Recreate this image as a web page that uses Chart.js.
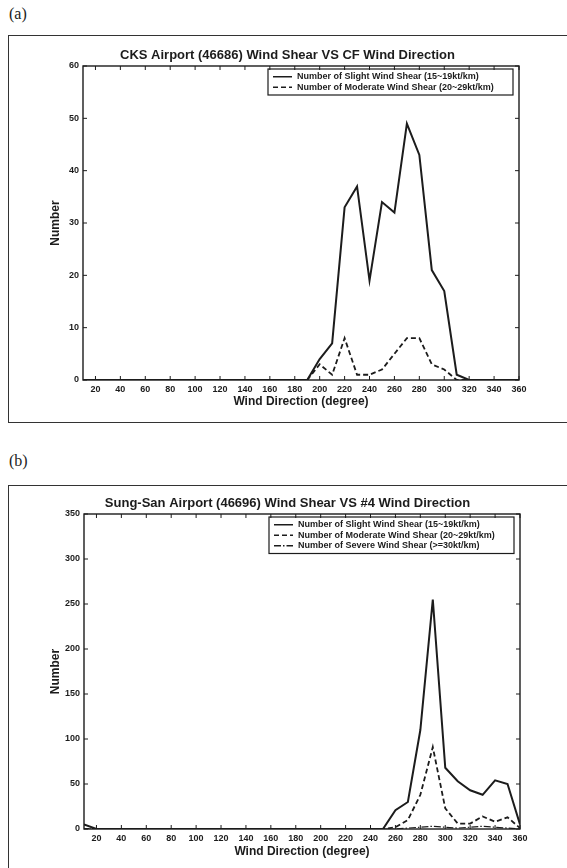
<!DOCTYPE html>
<html>
<head>
<meta charset="utf-8">
<title>Wind Shear vs Wind Direction</title>
<script src="https://cdn.jsdelivr.net/npm/chart.js@4.4.1/dist/chart.umd.min.js"></script>
<style>
  body { margin: 0; background: #fff; width: 567px; height: 868px; position: relative; overflow: hidden; }
  .tag { position: absolute; left: 9px; font-family: "Liberation Serif", "DejaVu Serif", serif; font-size: 16px; color: #222; }
  .frame { position: absolute; left: 8px; width: 600px; border: 1.5px solid #333; border-right: none; }
  canvas { position: absolute; left: 8px; }
</style>
</head>
<body>
<div class="tag" style="top:5px">(a)</div>
<div class="frame" style="top:35px;height:386px"></div>
<canvas id="cksChart" width="559" height="387" style="top:36px"></canvas>

<div class="tag" style="top:452px">(b)</div>
<div class="frame" style="top:485px;height:420px"></div>
<canvas id="sungChart" width="559" height="382" style="top:486px"></canvas>

<script>
// wind direction bins (degree)
const directions = [10, 20, 30, 40, 50, 60, 70, 80, 90, 100, 110, 120,
                    130, 140, 150, 160, 170, 180, 190, 200, 210, 220, 230, 240,
                    250, 260, 270, 280, 290, 300, 310, 320, 330, 340, 350, 360];
const xTicks = [20, 40, 60, 80, 100, 120, 140, 160, 180, 200, 220, 240, 260, 280, 300, 320, 340, 360];

// CKS Airport (46686)
const cksSlight   = [0, 0, 0, 0, 0, 0, 0, 0, 0, 0, 0, 0, 0, 0, 0, 0, 0, 0,
                     0, 4, 7, 33, 37, 19, 34, 32, 49, 43, 21, 17, 1, 0, 0, 0, 0, 0];
const cksModerate = [0, 0, 0, 0, 0, 0, 0, 0, 0, 0, 0, 0, 0, 0, 0, 0, 0, 0,
                     0, 3, 1, 8, 1, 1, 2, 5, 8, 8, 3, 2, 0, 0, 0, 0, 0, 0];
const cksYTicks = [0, 10, 20, 30, 40, 50, 60];

// Sung-San Airport (46696)
const sungSlight   = [5, 0, 0, 0, 0, 0, 0, 0, 0, 0, 0, 0, 0, 0, 0, 0, 0, 0,
                      0, 0, 0, 0, 0, 0, 0, 21, 30, 110, 255, 68, 53, 43, 38, 54, 50, 5];
const sungModerate = [0, 0, 0, 0, 0, 0, 0, 0, 0, 0, 0, 0, 0, 0, 0, 0, 0, 0,
                      0, 0, 0, 0, 0, 0, 0, 2, 10, 38, 91, 23, 6, 6, 14, 8, 13, 1];
const sungSevere   = [0, 0, 0, 0, 0, 0, 0, 0, 0, 0, 0, 0, 0, 0, 0, 0, 0, 0,
                      0, 0, 0, 0, 0, 0, 0, 0, 1, 2, 3, 2, 1, 2, 3, 2, 1, 0];
const sungYTicks = [0, 50, 100, 150, 200, 250, 300, 350];

const INK = '#1c1c1c';
const FONT = '"Liberation Sans", Arial, sans-serif';

function pts(values) {
    return directions.map((d, i) => ({ x: d, y: values[i] }));
}

// Box round the plot with inward ticks on all four sides
const boxAxes = {
    id: 'boxAxes',
    afterDraw(chart) {
        const { ctx, chartArea: a, scales: { x, y } } = chart;
        ctx.save();
        ctx.strokeStyle = INK;
        ctx.lineWidth = 1.4;
        ctx.strokeRect(a.left, a.top, a.right - a.left, a.bottom - a.top);
        ctx.lineWidth = 1;
        ctx.beginPath();
        x.ticks.forEach(t => {
            const px = x.getPixelForValue(t.value);
            ctx.moveTo(px, a.bottom); ctx.lineTo(px, a.bottom - 4);
            ctx.moveTo(px, a.top); ctx.lineTo(px, a.top + 4);
        });
        y.ticks.forEach(t => {
            const py = y.getPixelForValue(t.value);
            ctx.moveTo(a.left, py); ctx.lineTo(a.left + 4, py);
            ctx.moveTo(a.right, py); ctx.lineTo(a.right - 4, py);
        });
        ctx.stroke();
        ctx.restore();
    }
};

// Framed legend in the top right corner of the plot
const boxLegend = {
    id: 'boxLegend',
    afterDatasetsDraw(chart) {
        const { ctx, chartArea } = chart;
        const sets = chart.data.datasets;
        const rowH = 10.5;
        const w = 245, h = 5 + sets.length * rowH;
        const x = chartArea.right - 6 - w, y = chartArea.top + 3;
        ctx.save();
        ctx.fillStyle = '#fff';
        ctx.fillRect(x, y, w, h);
        ctx.strokeStyle = INK;
        ctx.lineWidth = 1.2;
        ctx.strokeRect(x, y, w, h);
        ctx.font = 'bold 9px ' + FONT;
        ctx.textBaseline = 'middle';
        sets.forEach((ds, i) => {
            const cy = y + 2.5 + rowH * (i + 0.5);
            ctx.setLineDash(ds.borderDash || []);
            ctx.lineWidth = 1.5;
            ctx.beginPath();
            ctx.moveTo(x + 5, cy);
            ctx.lineTo(x + 24, cy);
            ctx.stroke();
            ctx.setLineDash([]);
            ctx.fillStyle = INK;
            ctx.fillText(ds.label, x + 29, cy);
        });
        ctx.restore();
    }
};

function lineSet(label, values, dash, width) {
    return {
        label: label,
        data: pts(values),
        borderColor: INK,
        borderWidth: width,
        borderDash: dash,
        pointRadius: 0,
        tension: 0,
        fill: false
    };
}

function makeChart(id, cfg) {
    const ctx = document.getElementById(id).getContext('2d');
    return new Chart(ctx, {
        type: 'line',
        data: { datasets: cfg.datasets },
        options: {
            responsive: false,
            animation: false,
            layout: { padding: 0 },
            plugins: {
                legend: { display: false },
                tooltip: { enabled: false },
                title: {
                    display: true,
                    text: cfg.title,
                    color: INK,
                    font: { family: FONT, size: 13, weight: 'bold' },
                    padding: { top: cfg.titleTop, bottom: cfg.titleBottom }
                }
            },
            scales: {
                x: {
                    type: 'linear',
                    min: 10,
                    max: 360,
                    afterBuildTicks: s => { s.ticks = xTicks.map(v => ({ value: v })); },
                    afterFit: s => { s.height = cfg.xHeight; },
                    grid: { display: false, drawTicks: false },
                    border: { display: false },
                    ticks: {
                        color: INK,
                        autoSkip: false,
                        maxRotation: 0,
                        padding: 4,
                        font: { family: FONT, size: 9, weight: 'bold' }
                    },
                    title: {
                        display: true,
                        text: 'Wind Direction (degree)',
                        color: INK,
                        font: { family: FONT, size: 12, weight: 'bold' },
                        padding: { top: 0, bottom: cfg.xTitleBottom }
                    }
                },
                y: {
                    min: 0,
                    max: cfg.yTicks[cfg.yTicks.length - 1],
                    afterBuildTicks: s => { s.ticks = cfg.yTicks.map(v => ({ value: v })); },
                    afterFit: s => { s.width = cfg.yWidth; },
                    grid: { display: false, drawTicks: false },
                    border: { display: false },
                    ticks: {
                        color: INK,
                        padding: 4,
                        font: { family: FONT, size: 9, weight: 'bold' }
                    },
                    title: {
                        display: true,
                        text: 'Number',
                        color: INK,
                        font: { family: FONT, size: 12, weight: 'bold' },
                        padding: { top: 40, bottom: 0 }
                    }
                },
                // empty right-hand axis, keeps the title centred on the whole frame
                yRight: {
                    position: 'right',
                    afterFit: s => { s.width = cfg.padRight; },
                    grid: { display: false, drawTicks: false },
                    border: { display: false },
                    ticks: { display: false }
                }
            }
        },
        plugins: [boxLegend, boxAxes]
    });
}

makeChart('cksChart', {
    title: 'CKS Airport (46686) Wind Shear VS CF Wind Direction',
    datasets: [
        lineSet('Number of Slight Wind Shear (15~19kt/km)', cksSlight, [], 2),
        lineSet('Number of Moderate Wind Shear (20~29kt/km)', cksModerate, [5, 3], 1.8)
    ],
    yTicks: cksYTicks,
    padRight: 48,
    yWidth: 75,
    xHeight: 43,
    xTitleBottom: 13.8,
    titleTop: 11.2,
    titleBottom: 3.2
});

makeChart('sungChart', {
    title: 'Sung-San Airport (46696) Wind Shear VS #4 Wind Direction',
    datasets: [
        lineSet('Number of Slight Wind Shear (15~19kt/km)', sungSlight, [], 2),
        lineSet('Number of Moderate Wind Shear (20~29kt/km)', sungModerate, [5, 3], 1.8),
        lineSet('Number of Severe Wind Shear (>=30kt/km)', sungSevere, [7, 2, 1.5, 2], 1.2)
    ],
    yTicks: sungYTicks,
    padRight: 47,
    yWidth: 76,
    xHeight: 39,
    xTitleBottom: 8.8,
    titleTop: 9.2,
    titleBottom: 3.2
});
</script>
</body>
</html>
